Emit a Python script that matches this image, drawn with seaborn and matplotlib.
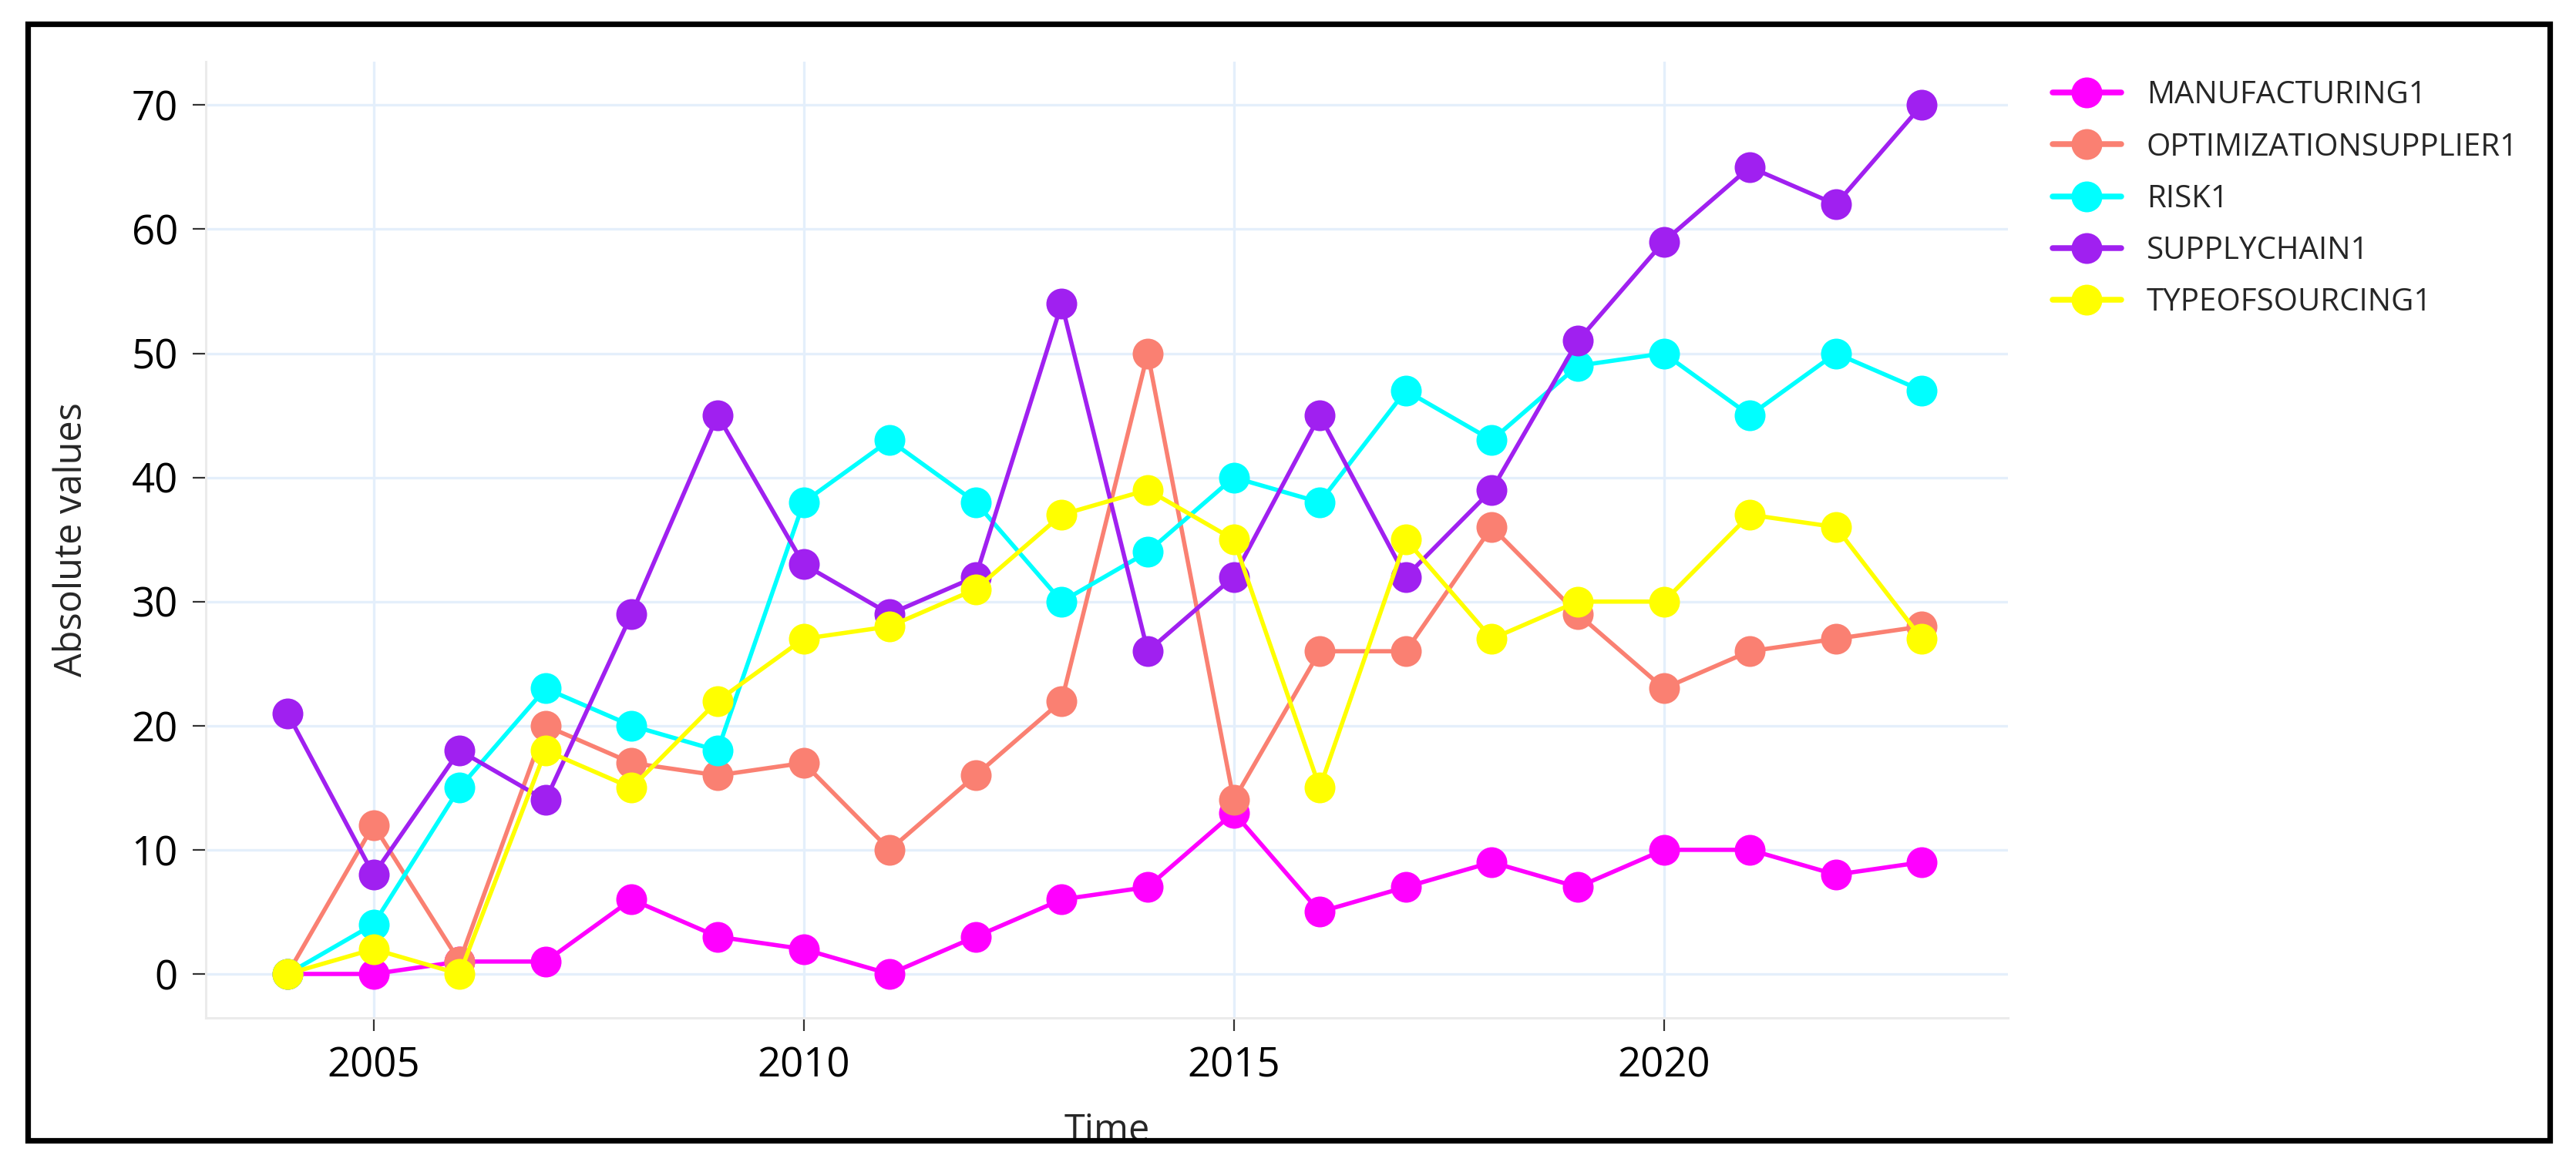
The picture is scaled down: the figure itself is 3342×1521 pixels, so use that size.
import numpy as np
import pandas as pd
import matplotlib
matplotlib.use("Agg")
import matplotlib.pyplot as plt
from matplotlib.patches import Rectangle
import seaborn as sns

years = list(range(2004, 2024))
manufacturing = [0, 0, 1, 1, 6, 3, 2, 0, 3, 6, 7, 13, 5, 7, 9, 7, 10, 10, 8, 9]
optimization = [0, 12, 1, 20, 17, 16, 17, 10, 16, 22, 50, 14, 26, 26, 36, 29, 23, 26, 27, 28]
risk = [0, 4, 15, 23, 20, 18, 38, 43, 38, 30, 34, 40, 38, 47, 43, 49, 50, 45, 50, 47]
supplychain = [21, 8, 18, 14, 29, 45, 33, 29, 32, 54, 26, 32, 45, 32, 39, 51, 59, 65, 62, 70]
typeofsourcing = [0, 2, 0, 18, 15, 22, 27, 28, 31, 37, 39, 35, 15, 35, 27, 30, 30, 37, 36, 27]

series_names = ["MANUFACTURING1", "OPTIMIZATIONSUPPLIER1", "RISK1", "SUPPLYCHAIN1", "TYPEOFSOURCING1"]
series_values = [manufacturing, optimization, risk, supplychain, typeofsourcing]
colors = ["#FF00FF", "#FA8072", "#00FFFF", "#A020F0", "#FFFF00"]
y_ticks = [0, 10, 20, 30, 40, 50, 60, 70]
x_ticks = [2005, 2010, 2015, 2020]

df = pd.DataFrame({
    "Time": np.tile(years, len(series_names)),
    "Absolute values": np.concatenate(series_values),
    "Series": np.repeat(series_names, len(years)),
})

sns.set_style("white")
plt.rcParams["font.family"] = ["Open Sans", "DejaVu Sans"]

DPI = 200
W, H = 3342, 1521
fig = plt.figure(figsize=(W / DPI, H / DPI), dpi=DPI)
ax = fig.add_axes([267 / W, 1 - 1321 / H, (2605 - 267) / W, (1321 - 80) / H])

palette = dict(zip(series_names, colors))
sns.lineplot(data=df, x="Time", y="Absolute values", hue="Series",
             hue_order=series_names, palette=palette, marker="o",
             markersize=14.4, markeredgewidth=0, linewidth=2.0, ax=ax)

ax.set_xlim(2003.05, 2024.0)
ax.set_ylim(-3.54, 73.5)
ax.set_xticks(x_ticks)
ax.set_yticks(y_ticks)
ax.grid(True, color="#E4EFFB", linewidth=1.2)
ax.set_axisbelow(True)
for s in ["top", "right"]:
    ax.spines[s].set_visible(False)
for s in ["left", "bottom"]:
    ax.spines[s].set_color("#EBEBEB")
    ax.spines[s].set_linewidth(1.1)
ax.tick_params(axis="both", which="major", labelsize=19, length=6, width=0.8,
               color="#333333", pad=7, labelcolor="black", left=True, bottom=True)
ax.set_xlabel("Time", fontsize=17.5, labelpad=12)
ax.set_ylabel("Absolute values", fontsize=17.5, labelpad=19)

handles, labels = ax.get_legend_handles_labels()
if ax.get_legend():
    ax.get_legend().remove()
leg = ax.legend(handles, labels, loc="upper left",
                bbox_to_anchor=(2663 / W, 1 - 104 / H), bbox_transform=fig.transFigure,
                frameon=False, borderpad=0, borderaxespad=0, fontsize=14.5,
                handlelength=2.2, handletextpad=0.82, labelspacing=0.66)
for h in leg.legend_handles:
    h.set_linewidth(2.7)
    h.set_markersize(14.4)
    h.set_markeredgewidth(0)

# white cover and outer frame
fig.patches.append(Rectangle((0, 0), 1, 1 - 1483 / H, transform=fig.transFigure,
                             facecolor="white", edgecolor="none", zorder=9))
fig.patches.append(Rectangle((36 / W, 1 - 1479.5 / H), (3308 - 36) / W, (1479.5 - 31) / H,
                             transform=fig.transFigure, fill=False, edgecolor="black",
                             linewidth=2.6, zorder=10))

fig.savefig("out.png", dpi=DPI, facecolor="white")
